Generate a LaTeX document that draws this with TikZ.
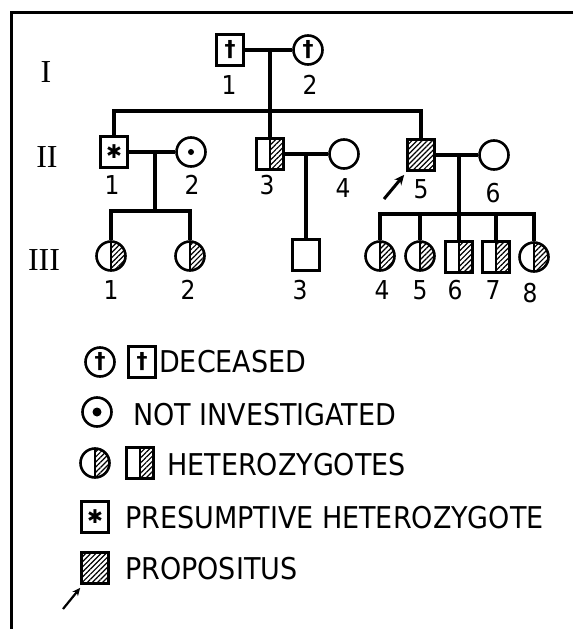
\documentclass[tikz,border=0pt]{standalone}
\usepackage{fontspec}
\newfontfamily\lettering{DejaVu Sans Condensed}
\newfontfamily\symbfont{DejaVu Sans}
\newfontfamily\romfont{Liberation Serif}
\usetikzlibrary{arrows.meta,patterns.meta}

\tikzset{
  ped/.style={draw, line width=2.6pt, inner sep=0pt},
  male/.style={ped, rectangle, minimum width=27pt, minimum height=31pt},
  female/.style={ped, circle, minimum size=29pt},
  hatch/.style={pattern={Lines[angle=45,distance=3.6pt,line width=1.2pt]}},
  half/.style={path picture={
      \fill[hatch] (path picture bounding box.north) rectangle (path picture bounding box.south east);
      \draw[line width=2pt] (path picture bounding box.north) -- (path picture bounding box.south);}},
  nottested/.style={path picture={\fill (path picture bounding box.center) circle (#1);}},
  nottested/.default=3,
  dead/.style={font=\symbfont\bfseries\fontsize{22}{22}\selectfont},
  star/.style={font=\symbfont\bfseries\fontsize{19}{19}\selectfont},
  link/.style={line width=3.2pt},
  gen/.style={font=\romfont\fontsize{32}{32}\selectfont, inner sep=0pt},
  idlab/.style={font=\lettering\fontsize{26}{26}\selectfont, inner sep=0pt},
  keytxt/.style={font=\lettering\fontsize{30}{30}\selectfont, anchor=west, inner sep=0pt},
  probarrow/.style={-{Stealth[length=10pt,width=9pt]}, line width=3pt},
  keyarrow/.style={-{Stealth[length=8pt,width=7pt]}, line width=2.2pt}
}

\begin{document}
\begin{tikzpicture}[x=1pt,y=-1pt]
  \useasboundingbox (0,0) rectangle (573,629);
  \draw[line width=3pt] (573,12) -- (11,12) -- (11,629);

  % generations
  \node[gen] (gI) at (46,72) {I};
  \node[gen] (gII) at (47,157) {II};
  \node[gen] (gIII) at (44,260) {III};

  % generation I
  \node[male,dead] (I1) at (230,50) {†};
  \node[female,dead] (I2) at (308,50) {†};
  \node[idlab] (nI1) at (229,85) {1};
  \node[idlab] (nI2) at (310,85) {2};
  \coordinate (mI) at (270,50);
  \coordinate (cII) at (270,111);
  \draw[link] (I1) -- (I2);

  % generation II
  \node[male,star] (II1) at (114,152) {✱};
  \node[female,nottested] (II2) at (191,152) {};
  \node[male,half] (II3) at (270,154) {};
  \node[female] (II4) at (344,154) {};
  \node[male,hatch] (II5) at (421,155) {};
  \node[female] (II6) at (494,155) {};
  \node[idlab] (nII1) at (112,185) {1};
  \node[idlab] (nII2) at (192,185) {2};
  \node[idlab] (nII3) at (267,185) {3};
  \node[idlab] (nII4) at (343,188) {4};
  \node[idlab] (nII5) at (421,189) {5};
  \node[idlab] (nII6) at (493,193) {6};
  \draw[link] (mI) -- (II3);
  \draw[link] (II1) |- (cII) -| (II5);
  \draw[link] (II1) -- (II2);
  \draw[link] (II3) -- (II4);
  \draw[link] (II5) -- (II6);
  \coordinate (pa) at (384,199);
  \draw[probarrow] (pa) -- ([shift={(-2,3)}]II5.south west);

  % generation III
  \node[female,half] (III1) at (111,256) {};
  \node[female,half] (III2) at (190,256) {};
  \node[male] (III3) at (306,255) {};
  \node[female,half] (III4) at (380,256) {};
  \node[female,half] (III5) at (420,256) {};
  \node[male,half] (III6) at (459,257) {};
  \node[male,half] (III7) at (496,257) {};
  \node[female,half] (III8) at (534,257) {};
  \node[idlab] (nIII1) at (111,290) {1};
  \node[idlab] (nIII2) at (188,290) {2};
  \node[idlab] (nIII3) at (300,290) {3};
  \node[idlab] (nIII4) at (382,290) {4};
  \node[idlab] (nIII5) at (420,290) {5};
  \node[idlab] (nIII6) at (455,290) {6};
  \node[idlab] (nIII7) at (493,290) {7};
  \node[idlab] (nIII8) at (530,293) {8};
  \coordinate (mIIa) at (155,152);
  \coordinate (cIIIa) at (155,211);
  \draw[link] (mIIa) -- (cIIIa);
  \draw[link] (III1) |- (cIIIa) -| (III2);
  \coordinate (mIIb) at (306,154);
  \draw[link] (mIIb) -- (III3);
  \coordinate (mIIc) at (459,155);
  \coordinate (cIIIb) at (459,214);
  \draw[link] (mIIc) -- (III6);
  \draw[link] (III4) |- (cIIIb) -| (III8);
  \draw[link] (III5) -- (III5 |- cIIIb);
  \draw[link] (III7) -- (III7 |- cIIIb);

  % key
  \node[female,dead] (k1a) at (100,362) {†};
  \node[male,dead] (k1b) at (142,362) {†};
  \node[keytxt] (t1) at (159,362) {DECEASED};
  \node[female,nottested=4.5] (k2) at (97,412) {};
  \node[keytxt] (t2) at (133,415) {NOT INVESTIGATED};
  \node[female,half] (k3a) at (95,463) {};
  \node[male,half] (k3b) at (140,463) {};
  \node[keytxt] (t3) at (167,465) {HETEROZYGOTES};
  \node[male,star] (k4) at (95,517) {✱};
  \node[keytxt] (t4) at (125,518) {PRESUMPTIVE HETEROZYGOTE};
  \node[male,hatch] (k5) at (95,568) {};
  \node[keytxt] (t5) at (125,569) {PROPOSITUS};
  \coordinate (ka) at (63,609);
  \draw[keyarrow] (ka) -- ([shift={(0,3)}]k5.south west);
\end{tikzpicture}
\end{document}
